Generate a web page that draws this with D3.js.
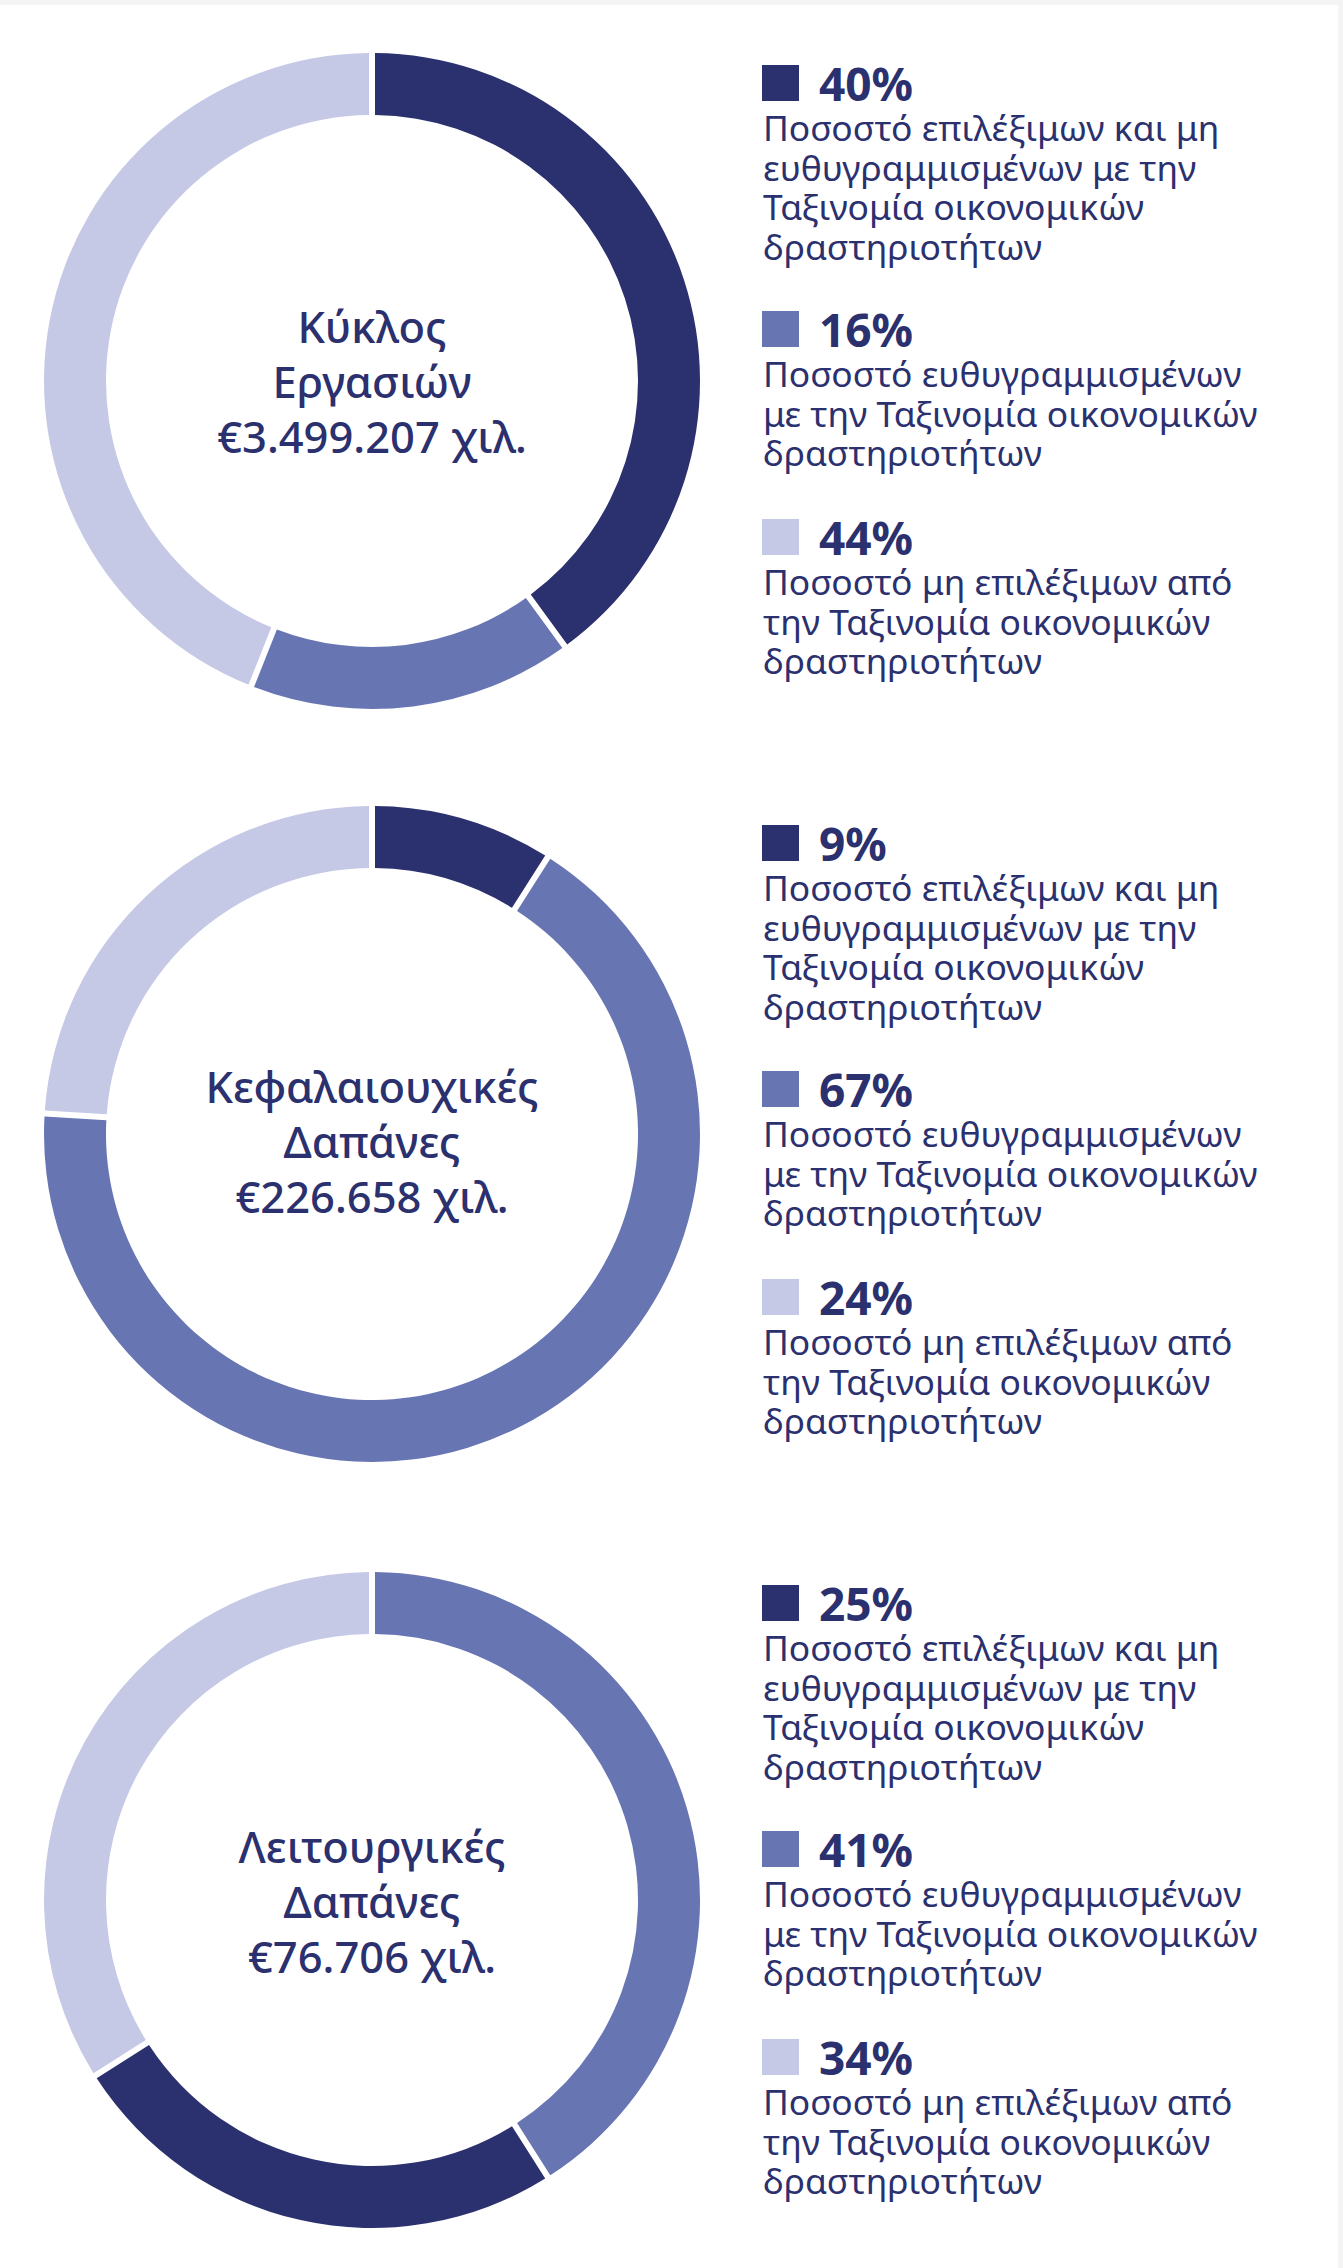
<!DOCTYPE html>
<html lang="el">
<head>
<meta charset="utf-8">
<script src="https://cdn.jsdelivr.net/npm/d3@7"></script>
<style>
  html, body { margin: 0; padding: 0; background: #ffffff; }
  svg { display: block; }
</style>
</head>
<body>
<svg id="chart" width="1343" height="2268"></svg>
<script>
// Three taxonomy breakdowns: turnover, capital expenditure, operating expenditure
const chartTitles = [
  ["Κύκλος", "Εργασιών"],
  ["Κεφαλαιουχικές", "Δαπάνες"],
  ["Λειτουργικές", "Δαπάνες"]
];
const chartTotals = ["€3.499.207 χιλ.", "€226.658 χιλ.", "€76.706 χιλ."];

// Categories (legend order) and their wrapped legend text
const categories = ["eligibleNotAligned", "aligned", "notEligible"];
const categoryLabels = [
  ["Ποσοστό επιλέξιμων και μη", "ευθυγραμμισμένων με την", "Ταξινομία οικονομικών", "δραστηριοτήτων"],
  ["Ποσοστό ευθυγραμμισμένων", "με την Ταξινομία οικονομικών", "δραστηριοτήτων"],
  ["Ποσοστό μη επιλέξιμων από", "την Ταξινομία οικονομικών", "δραστηριοτήτων"]
];

// Percentages per category, in legend order
const turnoverShares = [40, 16, 44];
const capexShares = [9, 67, 24];
const opexShares = [25, 41, 34];
const shareSets = [turnoverShares, capexShares, opexShares];

// Order in which categories run clockwise from 12 o'clock
const ringOrders = [[0, 1, 2], [0, 1, 2], [1, 0, 2]];

const colors = ["#2b306e", "#6875b3", "#c6c9e6"];
const textColor = "#2b306e";

const svg = d3.select("#chart");

// page frame strips
svg.append("rect").attr("x", 0).attr("y", 0).attr("width", 1343).attr("height", 5).attr("fill", "#f4f4f5");
svg.append("rect").attr("x", 1338).attr("y", 0).attr("width", 5).attr("height", 2268).attr("fill", "#f4f4f5");

const outerR = 328, innerR = 266, gap = 6;
const sectionStep = 760;
const centerX = 372;
const ringCentersY = [381, 1134, 1900];
const captionCentersY = [381, 1141, 1901];

const pie = d3.pie().sort(null).value(d => d.value);
const arc = d3.arc()
  .innerRadius(innerR)
  .outerRadius(outerR)
  .padRadius(outerR)
  .padAngle(gap / outerR);

const fontFamily = "'Noto Sans', 'Open Sans', sans-serif";

shareSets.forEach((shares, i) => {
  const ring = svg.append("g").attr("transform", `translate(${centerX},${ringCentersY[i]})`);

  const ringData = ringOrders[i].map(k => ({ key: k, value: shares[k] }));
  ring.selectAll("path")
    .data(pie(ringData))
    .join("path")
    .attr("d", arc)
    .attr("fill", d => colors[d.data.key]);

  // centre caption
  const cap = svg.append("g").attr("transform", `translate(${centerX},${captionCentersY[i]})`);
  const lines = chartTitles[i].concat([chartTotals[i]]);
  cap.selectAll("text.center")
    .data(lines)
    .join("text")
    .attr("class", "center")
    .attr("x", 0)
    .attr("y", (d, j) => -38 + j * 55)
    .attr("text-anchor", "middle")
    .attr("font-family", fontFamily)
    .attr("font-weight", 500)
    .attr("font-size", 43.5)
    .attr("fill", textColor)
    .text(d => d);

  // legend
  const legendTops = [65, 311, 519];
  const lg = svg.append("g").attr("transform", `translate(762,${i * sectionStep})`);
  categories.forEach((c, k) => {
    const top = legendTops[k];
    const item = lg.append("g").attr("transform", `translate(0,${top})`);
    item.append("rect")
      .attr("x", 0).attr("y", 0)
      .attr("width", 37).attr("height", 36)
      .attr("fill", colors[k]);
    item.append("text")
      .attr("x", 57).attr("y", 36)
      .attr("font-family", fontFamily)
      .attr("font-weight", 700)
      .attr("font-size", 46)
      .attr("fill", textColor)
      .text(shares[k] + "%");
    item.selectAll("text.label")
      .data(categoryLabels[k])
      .join("text")
      .attr("class", "label")
      .attr("x", 1)
      .attr("y", (d, j) => 76 + j * 39.5)
      .attr("font-family", fontFamily)
      .attr("font-size", 35.4)
      .attr("fill", textColor)
      .text(d => d);
  });
});
</script>
</body>
</html>
